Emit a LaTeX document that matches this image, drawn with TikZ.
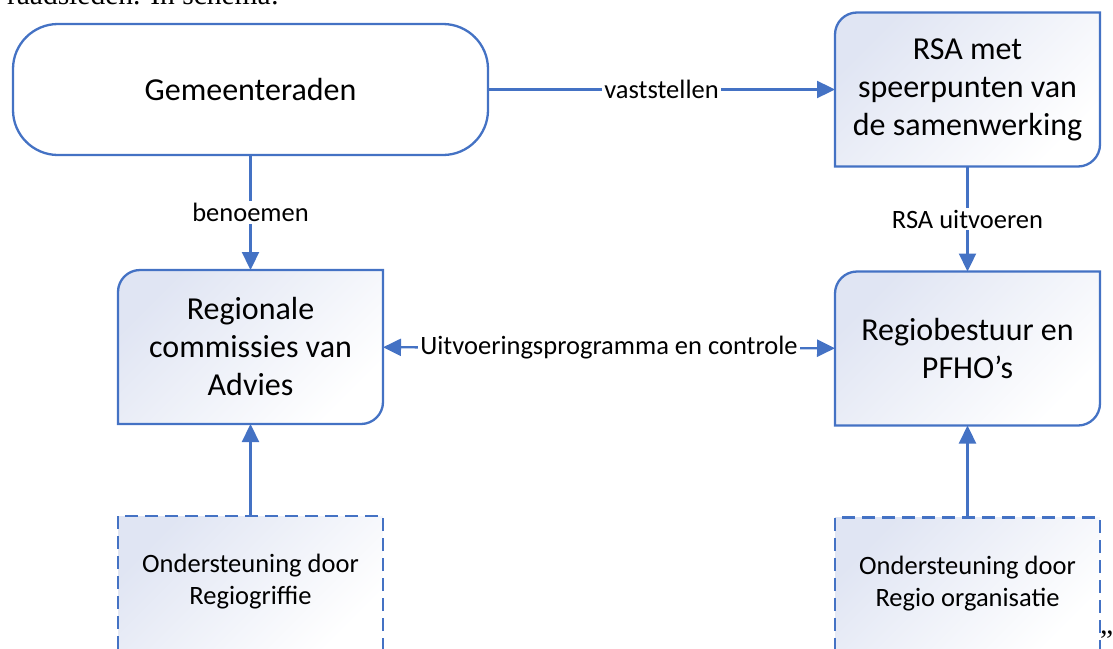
\documentclass[tikz,border=0pt]{standalone}
\usepackage{fontspec}
\setmainfont{Carlito}
\newfontfamily\bodyserif{Liberation Serif}
\usetikzlibrary{positioning, arrows.meta, backgrounds}

\definecolor{lineblue}{HTML}{4472C4}
\definecolor{tintblue}{HTML}{E0E5F3}

\begin{document}
\begin{tikzpicture}[x=1pt, y=1pt, node distance=100pt,
	every node/.style={inner sep=0pt, outer sep=0pt},
	big/.style={font=\fontsize{32}{38}\selectfont, align=center},
	lbl/.style={font=\fontsize{26.5}{30}\selectfont, fill=white, inner sep=2pt},
	small/.style={font=\fontsize{26.5}{32}\selectfont, align=center},
	oval/.style={big, draw=lineblue, line width=2.3pt, rounded corners=45pt, fill=white, minimum width=475pt, minimum height=131pt},
	clas/.style={big, minimum width=265pt, minimum height=154pt},
	shade/.style={top color=tintblue, bottom color=white, shading angle=45},
	outline/.style={draw=lineblue, line width=2.3pt},
	helper/.style={small, minimum width=265pt, minimum height=132pt},
	arr/.style={draw=lineblue, line width=2.3pt, -{Triangle[length=18pt, width=17pt]}},
	darr/.style={draw=lineblue, line width=2.3pt, {Triangle[length=18pt, width=17pt]}-{Triangle[length=18pt, width=17pt]}}
	]
\useasboundingbox (0,0) rectangle (1113,-648);

% text of the page round the schema
\node[anchor=base west, font=\bodyserif\fontsize{29.5}{34}\selectfont] (intro) at (7,-4) {raadsleden. In schema:};
\node[anchor=base west, font=\bodyserif\fontsize{29.5}{34}\selectfont] (quote) at (1100,-650) {”};

\node[oval] (gem) at (250.5,-89.5) {Gemeenteraden};
\node[clas, right=347pt of gem] (rsa) {RSA met\\speerpunten van\\de samenwerking};
\node[clas, below=115pt of gem] (rca) {Regionale\\commissies van\\Advies};
\node[clas, below=105pt of rsa] (rbp) {Regiobestuur en\\PFHO’s};

\node[helper, below=92pt of rca] (grif) {Ondersteuning door\\Regiogriffie};
\node[helper, below=92pt of rbp] (org) {Ondersteuning door\\Regio organisatie};

% boxes with two round corners
\begin{scope}[on background layer]
\foreach \n in {rsa, rca, rbp}
	\path[shade, outline] (\n.north east) -- ([yshift=22pt]\n.south east) arc[start angle=0, end angle=-90, radius=22pt] -- (\n.south west) -- ([yshift=-22pt]\n.north west) arc[start angle=180, end angle=90, radius=22pt] -- cycle;
\foreach \n in {grif, org}
	\path[shade, outline, dash pattern=on 13pt off 7pt] (\n.north west) rectangle ([yshift=-3pt]\n.south east);
\end{scope}

\path[arr] (gem) -- node[lbl] {vaststellen} (rsa);
\path[arr] (gem) -- node[lbl] {benoemen} (rca);
\path[arr] (rsa) -- node[lbl] {RSA uitvoeren} (rbp);
\path[darr] (rca) -- node[lbl] {Uitvoeringsprogramma en controle} (rbp);
\path[arr] (grif) -- (rca);
\path[arr] (org) -- (rbp);

\end{tikzpicture}
\end{document}
